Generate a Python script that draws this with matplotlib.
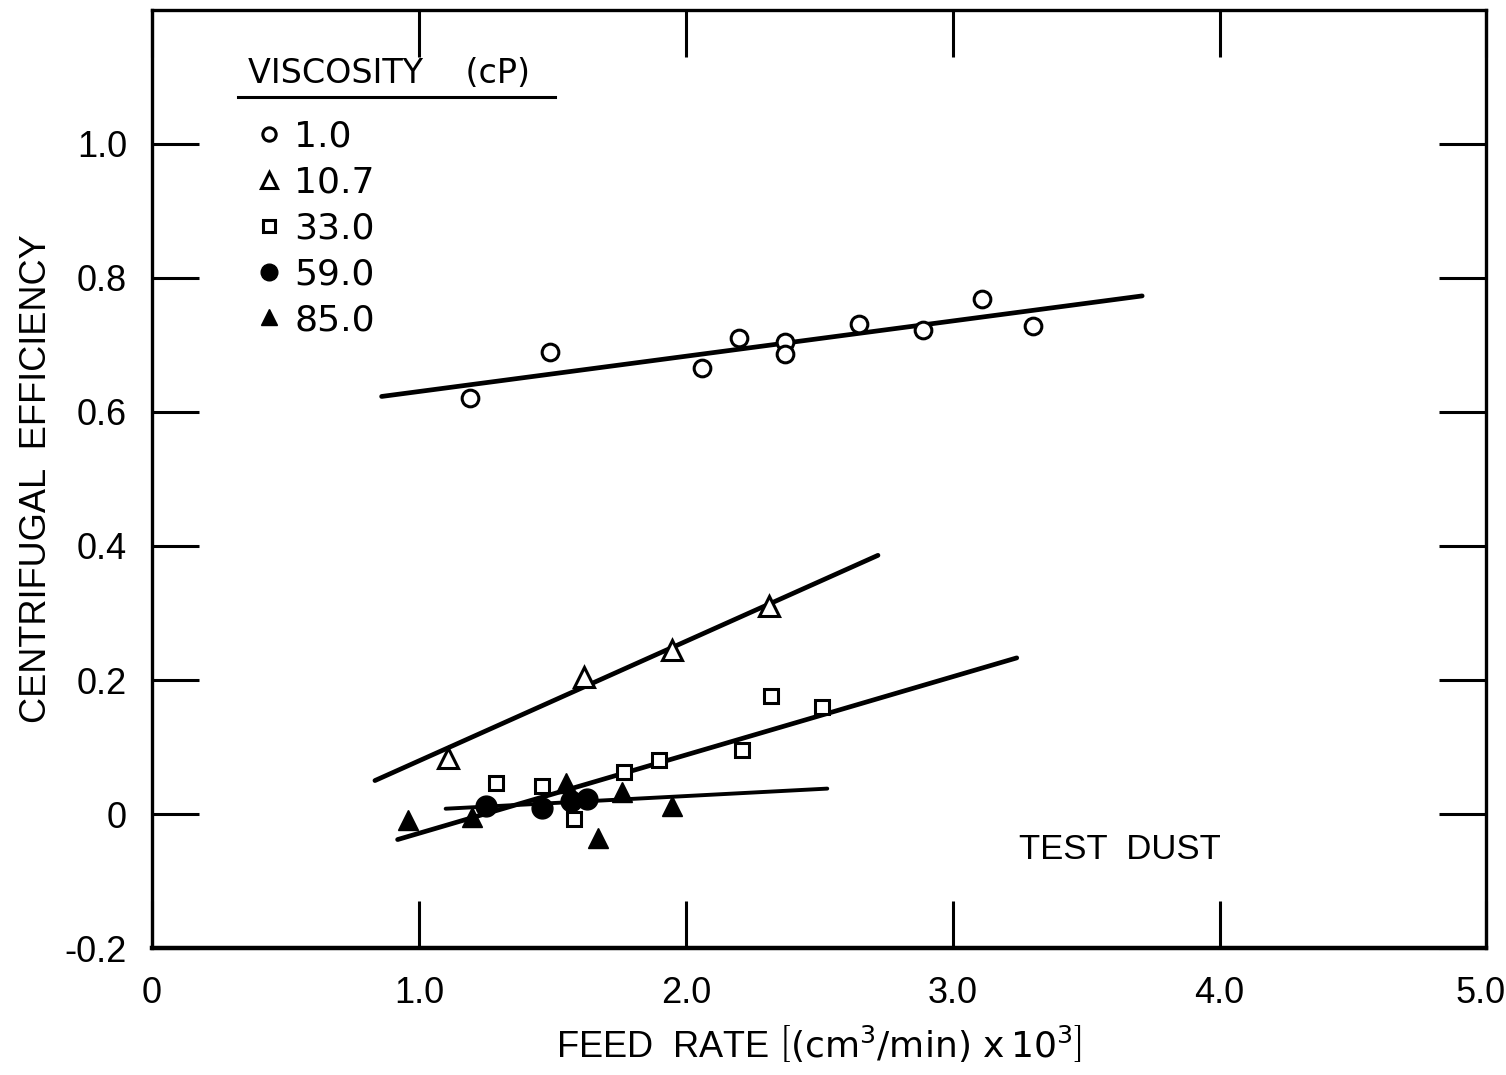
import matplotlib
matplotlib.use("Agg")
import matplotlib.pyplot as plt
import matplotlib.transforms as mtransforms
import numpy as np

plt.rcParams['font.family'] = ['Liberation Sans', 'DejaVu Sans']

# viscosity 1.0 cP (open circles)
x_10 = [1.19, 1.49, 2.06, 2.20, 2.37, 2.37, 2.65, 2.89, 3.11, 3.30]
y_10 = [0.621, 0.689, 0.665, 0.710, 0.704, 0.687, 0.731, 0.722, 0.768, 0.728]
fit_10_x = [0.86, 3.71]
fit_10_y = [0.623, 0.773]

# viscosity 10.7 cP (open triangles)
x_107 = [1.11, 1.62, 1.95, 2.31]
y_107 = [0.083, 0.205, 0.245, 0.310]
fit_107_x = [0.835, 2.72]
fit_107_y = [0.050, 0.386]

# viscosity 33.0 cP (open squares)
x_33 = [1.29, 1.46, 1.58, 1.77, 1.90, 2.21, 2.32, 2.51]
y_33 = [0.047, 0.042, -0.008, 0.063, 0.081, 0.096, 0.176, 0.159]
fit_33_x = [0.92, 3.24]
fit_33_y = [-0.038, 0.233]

# viscosity 59.0 cP (filled circles)
x_59 = [1.25, 1.46, 1.57, 1.63]
y_59 = [0.012, 0.009, 0.020, 0.023]

# viscosity 85.0 cP (filled triangles)
x_85 = [0.96, 1.20, 1.55, 1.67, 1.76, 1.95]
y_85 = [-0.009, -0.004, 0.047, -0.036, 0.033, 0.012]
fit_hi_x = [1.10, 2.53]
fit_hi_y = [0.008, 0.038]

fs = 26
leg_font = {'family': 'DejaVu Sans', 'size': 26}
title_font = {'family': 'DejaVu Sans', 'size': 24}

fig = plt.figure(figsize=(15.06, 10.75), dpi=100)
ax = fig.add_axes([0.101, 0.118, 0.886, 0.873])

lw = 3.4
ax.plot(fit_10_x, fit_10_y, color='k', lw=lw, solid_capstyle='round')
ax.plot(fit_107_x, fit_107_y, color='k', lw=lw, solid_capstyle='round')
ax.plot(fit_33_x, fit_33_y, color='k', lw=lw, solid_capstyle='round')
ax.plot(fit_hi_x, fit_hi_y, color='k', lw=2.8, solid_capstyle='round')

mew = 2.2
ax.plot(x_10, y_10, 'o', ms=12, mfc='white', mec='k', mew=mew, label='1.0')
ax.plot(x_107, y_107, '^', ms=14, mfc='white', mec='k', mew=mew, label='10.7')
ax.plot(x_33, y_33, 's', ms=10, mfc='white', mec='k', mew=mew, label='33.0')
ax.plot(x_59, y_59, 'o', ms=15, mfc='k', mec='k', label='59.0')
ax.plot(x_85, y_85, '^', ms=15, mfc='k', mec='k', label='85.0')

ax.set_xlim(0, 5.0)
ax.set_ylim(-0.2, 1.2)
ax.set_xticks([0, 1, 2, 3, 4, 5])
ax.set_xticklabels(['0', '1.0', '2.0', '3.0', '4.0', '5.0'])
ax.set_yticks([-0.2, 0, 0.2, 0.4, 0.6, 0.8, 1.0])
ax.set_yticklabels(['-0.2', '0', '0.2', '0.4', '0.6', '0.8', '1.0'])
ax.tick_params(direction='in', length=34, width=2.2, labelsize=fs,
               top=True, right=True, pad=18)
ax.tick_params(axis='x', pad=20)
for s in ax.spines.values():
    s.set_linewidth(2.4)
ax.spines['bottom'].set_linewidth(3.2)

# keep the last x label inside the figure
last = ax.get_xticklabels()[-1]
last.set_transform(last.get_transform() +
                   mtransforms.ScaledTranslation(-0.06, 0, fig.dpi_scale_trans))

ax.set_xlabel(r'FEED  RATE $\left[(\mathrm{cm}^3\mathrm{/min})\ \mathrm{x}\,10^{3}\right]$',
              fontsize=fs, labelpad=10)
ax.set_ylabel('CENTRIFUGAL  EFFICIENCY', fontsize=fs, labelpad=8)

leg = ax.legend(loc='upper left', bbox_to_anchor=(0.062, 0.91), frameon=False,
                prop=leg_font, numpoints=1, handlelength=0.5, handletextpad=0.45,
                labelspacing=0.33, markerscale=0.8, borderpad=0.2)
ax.text(0.072, 0.932, 'VISCOSITY    (cP)', transform=ax.transAxes,
        fontdict=title_font, va='center', ha='left')
ax.plot([0.064, 0.302], [0.907, 0.907], color='k', lw=2.2,
        transform=ax.transAxes, clip_on=False)

ax.text(3.25, -0.053, 'TEST  DUST', fontsize=25, va='center', ha='left')

fig.savefig('out.png', dpi=100)
